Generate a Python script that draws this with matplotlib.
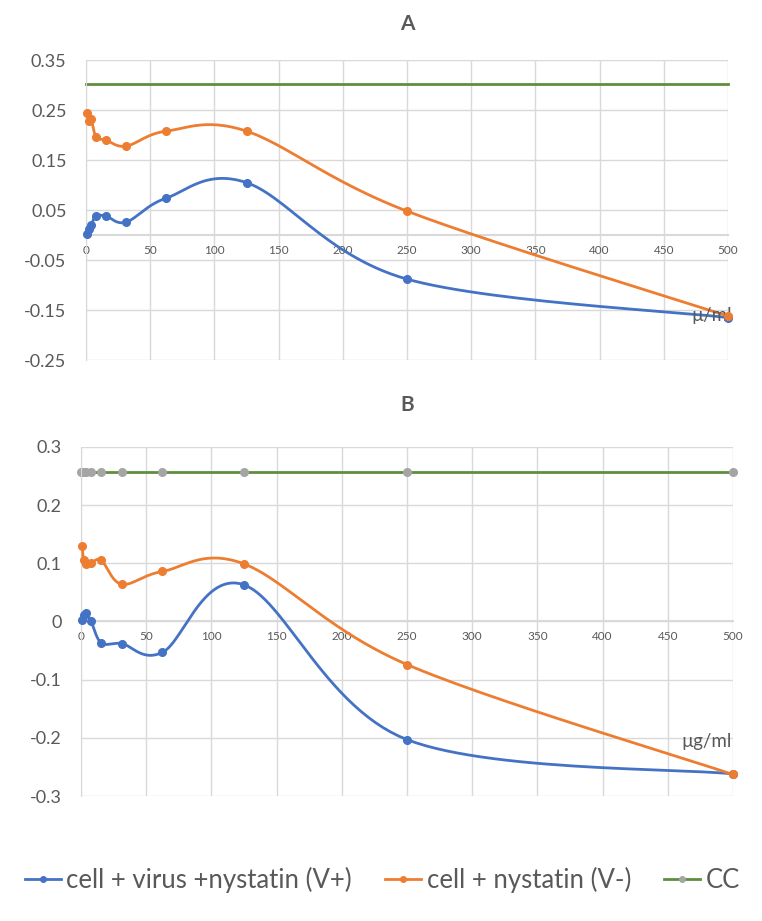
import matplotlib.pyplot as plt
import numpy as np

plt.rcParams['font.family'] = ['Lato', 'DejaVu Sans']

# concentrations (two-fold dilutions, ug/ml)
conc = [0.98, 1.95, 3.9, 7.8, 15.6, 31.25, 62.5, 125, 250, 500]

# panel A
a_virus = [0.003, 0.012, 0.020, 0.038, 0.038, 0.026, 0.074, 0.105, -0.088, -0.165]
a_nyst = [0.245, 0.228, 0.233, 0.197, 0.190, 0.178, 0.208, 0.208, 0.048, -0.162]
a_cc = 0.302

# panel B
b_virus = [0.003, 0.012, 0.015, 0.000, -0.037, -0.038, -0.053, 0.063, -0.203, -0.262]
b_nyst = [0.130, 0.105, 0.098, 0.100, 0.105, 0.064, 0.086, 0.099, -0.074, -0.263]
b_cc = 0.257

labels = ['cell + virus +nystatin (V+)', 'cell + nystatin (V-)', 'CC']

BLUE = '#4472C4'
ORANGE = '#ED7D31'
GREEN = '#5E8E3E'
GRAY = '#A5A5A5'
TXT = '#595959'
GRID = '#D9D9D9'

W, H = 7.62, 9.21


def smooth(x, y, ax, n=30):
    # excel-like smoothed line (catmull-rom bezier), done in pixel space
    x0, x1 = ax.get_xlim()
    y0, y1 = ax.get_ylim()
    pos = ax.get_position()
    sx = pos.width * W * 100 / (x1 - x0)
    sy = pos.height * H * 100 / (y1 - y0)
    P = np.column_stack([np.asarray(x) * sx, np.asarray(y) * sy])
    pts = [P[0]]
    for i in range(len(P) - 1):
        p0 = P[i - 1] if i > 0 else P[i]
        p1, p2 = P[i], P[i + 1]
        p3 = P[i + 2] if i + 2 < len(P) else P[i + 1]
        c1 = p1 + (p2 - p0) / 6
        c2 = p2 - (p3 - p1) / 6
        t = np.linspace(0, 1, n)[1:, None]
        seg = (1 - t) ** 3 * p1 + 3 * (1 - t) ** 2 * t * c1 + 3 * (1 - t) * t ** 2 * c2 + t ** 3 * p2
        pts.extend(seg)
    pts = np.array(pts)
    return pts[:, 0] / sx, pts[:, 1] / sy


def setup(ax, yticks, fmt):
    ax.set_xlim(0, 500)
    ax.set_ylim(yticks[0], yticks[-1])
    ax.set_xticks(range(0, 501, 50))
    ax.set_yticks(yticks)
    ax.set_yticklabels([fmt(v) for v in yticks])
    ax.grid(True, color=GRID, lw=1)
    ax.set_axisbelow(True)
    for s in ['top', 'right']:
        ax.spines[s].set_visible(False)
    ax.spines['left'].set_color(GRID)
    ax.spines['bottom'].set_position(('data', 0))
    ax.spines['bottom'].set_color(GRID)
    ax.spines['bottom'].set_linewidth(1.5)
    ax.tick_params(axis='both', length=0, colors=TXT)
    ax.tick_params(axis='x', labelsize=8.5, pad=7)
    ax.tick_params(axis='y', labelsize=13, pad=14)


fig = plt.figure(figsize=(W, H), dpi=100)
axA = fig.add_axes([0.1129, 0.609, 0.8425, 0.3257])
axB = fig.add_axes([0.1063, 0.1357, 0.8556, 0.379])

setup(axA, [-0.25, -0.15, -0.05, 0.05, 0.15, 0.25, 0.35], lambda v: f'{v:.2f}')
setup(axB, [-0.3, -0.2, -0.1, 0.0, 0.1, 0.2, 0.3], lambda v: '0' if v == 0 else f'{v:.1f}')

for ax, virus, nyst, cc, marker_cc in [(axA, a_virus, a_nyst, a_cc, False),
                                       (axB, b_virus, b_nyst, b_cc, True)]:
    for vals, col in [(virus, BLUE), (nyst, ORANGE)]:
        sx, sy = smooth(conc, vals, ax)
        ax.plot(sx, sy, color=col, lw=2, clip_on=False, zorder=3)
        ax.plot(conc, vals, 'o', color=col, ms=5.5, clip_on=False, zorder=4)
    ccx = [0] + conc
    ax.plot(ccx, [cc] * len(ccx), color=GREEN, lw=2, zorder=2, clip_on=False)
    if marker_cc:
        ax.plot(ccx, [cc] * len(ccx), 'o', color=GRAY, ms=5.5, zorder=2.5, clip_on=False)

axA.set_title('A', fontsize=15, fontweight='bold', color=TXT, pad=22)
axB.set_title('B', fontsize=15, fontweight='bold', color=TXT, pad=26)

axA.text(487, -0.16, 'µ/ml', ha='center', va='center', fontsize=13.5, color=TXT, zorder=3.5)
axB.text(480, -0.207, 'µg/ml', ha='center', va='center', fontsize=13.5, color=TXT)

handles = [plt.Line2D([], [], color=BLUE, lw=2, marker='o', ms=4),
           plt.Line2D([], [], color=ORANGE, lw=2, marker='o', ms=4),
           plt.Line2D([], [], color=GREEN, lw=2, marker='o', ms=4, mfc=GRAY, mec=GRAY)]
leg = fig.legend(handles, labels, loc='center', bbox_to_anchor=(0.502, 0.045), ncol=3,
                 frameon=False, fontsize=18.5, handlelength=1.4, handletextpad=0.2,
                 columnspacing=1.3)
for t in leg.get_texts():
    t.set_color(TXT)

fig.savefig('out.png', dpi=100)
